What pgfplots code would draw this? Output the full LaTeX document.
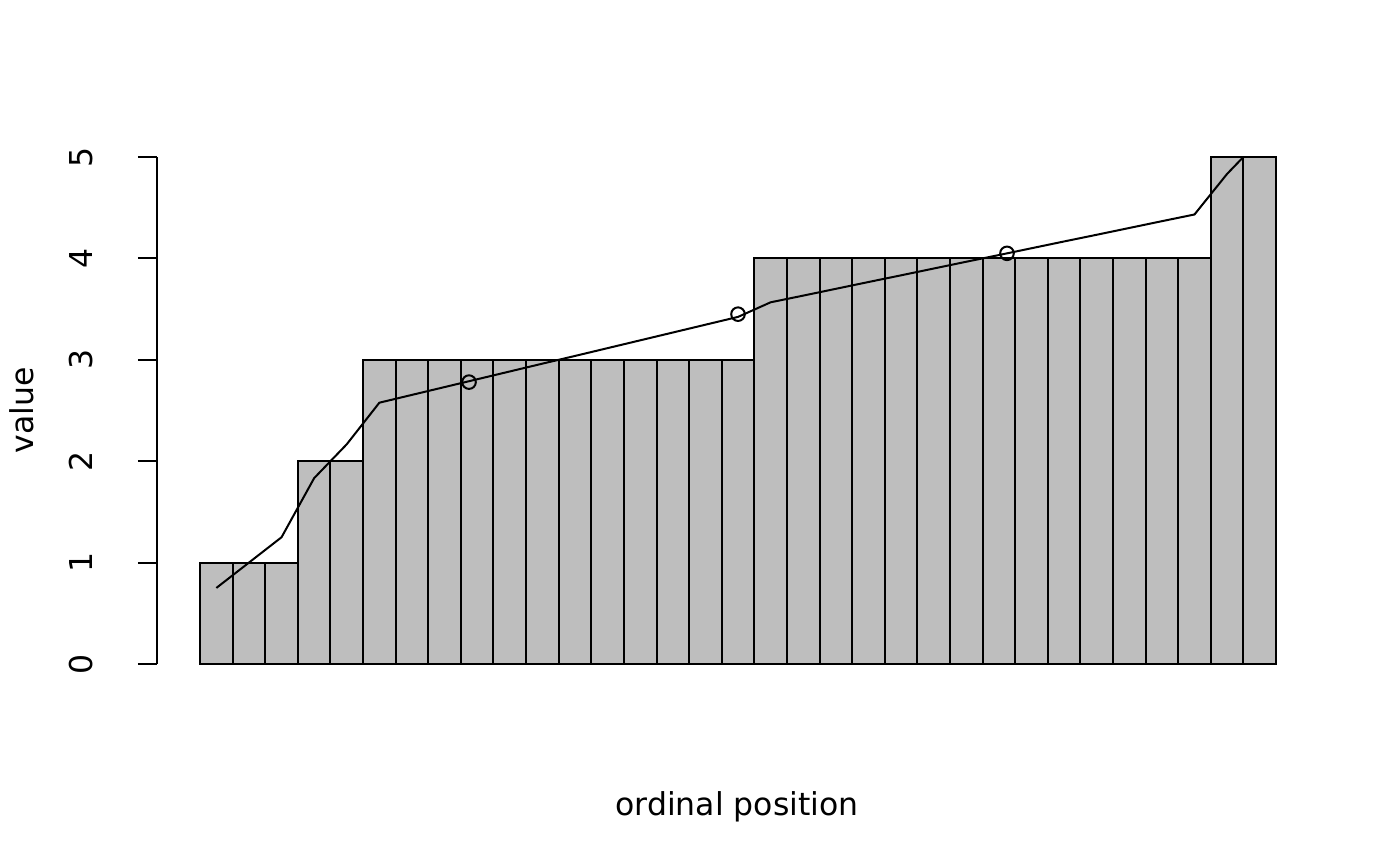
\documentclass[border=0pt]{standalone}
\usepackage{fontspec}
\setmainfont{DejaVu Sans}
\usepackage{pgfplots}
\pgfplotsset{compat=1.18}
\definecolor{rgray}{HTML}{BEBEBE}

\begin{document}
\fontsize{15.75}{19}\selectfont
\begin{tikzpicture}
\useasboundingbox (0,0) rectangle (700pt,433pt);
\begin{axis}[
  at={(78.5pt,101pt)}, anchor=south west,
  scale only axis,
  width=581pt, height=253.5pt,
  xmin=-1.32, xmax=34.32,
  ymin=0, ymax=5,
  clip=false,
  axis x line=none,
  axis y line*=left,
  y axis line style={line width=1pt},
  ytick={0,1,2,3,4,5},
  tick align=outside,
  major tick length=9.5pt,
  every tick/.style={black, line width=1pt},
  yticklabel style={xshift=-22.5pt, rotate=90, anchor=base, inner sep=0pt},
  /pgf/number format/assume math mode=true,
]
% bar heights, one bar per ordinal position
\addplot[ybar, bar width=1, bar shift=0pt, fill=rgray, draw=black, line width=1pt]
  coordinates {
  (0.5,1) (1.5,1) (2.5,1)
  (3.5,2) (4.5,2)
  (5.5,3) (6.5,3) (7.5,3) (8.5,3) (9.5,3) (10.5,3)
  (11.5,3) (12.5,3) (13.5,3) (14.5,3) (15.5,3) (16.5,3)
  (17.5,4) (18.5,4) (19.5,4) (20.5,4) (21.5,4) (22.5,4) (23.5,4)
  (24.5,4) (25.5,4) (26.5,4) (27.5,4) (28.5,4) (29.5,4) (30.5,4)
  (31.5,5) (32.5,5)
  };
% ridit-style line through bar centres (ends where it leaves the plot)
\addplot[black, line width=1pt, no marks]
  coordinates {
  (0.5,0.75) (1.5,1.00) (2.5,1.25)
  (3.5,1.833) (4.5,2.167)
  (5.5,2.577) (6.5,2.654) (7.5,2.731) (8.5,2.808) (9.5,2.885) (10.5,2.962)
  (11.5,3.038) (12.5,3.115) (13.5,3.192) (14.5,3.269) (15.5,3.346) (16.5,3.423)
  (17.5,3.567) (18.5,3.633) (19.5,3.700) (20.5,3.767) (21.5,3.833) (22.5,3.900)
  (23.5,3.967) (24.5,4.033) (25.5,4.100) (26.5,4.167) (27.5,4.233) (28.5,4.300)
  (29.5,4.367) (30.5,4.433)
  (31.5,4.833) (32,5)
  };
% quartile markers
\addplot[black, line width=1pt, only marks, mark=o, mark size=3.4pt]
  coordinates {(8.25,2.78) (16.5,3.45) (24.75,4.05)};
\end{axis}
\node[anchor=base] at (368.5pt,25.15pt) {ordinal position};
\node[rotate=90, anchor=base] at (16.65pt,227.75pt) {value};
\end{tikzpicture}
\end{document}
